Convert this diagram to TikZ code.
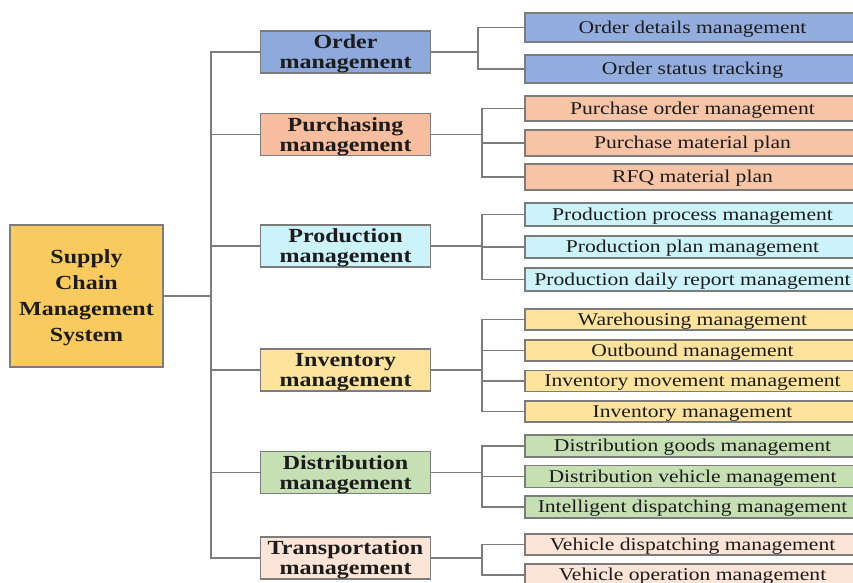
\documentclass[tikz,border=0pt]{standalone}
\usepackage{fontspec}
\newfontfamily\treefont{Liberation Serif}[FakeStretch=1.2]
\definecolor{linegray}{HTML}{7C7C7C}
\definecolor{rootfill}{HTML}{F9CB5F}
\definecolor{orderfill}{HTML}{8EA9DB}
\definecolor{orderleaf}{HTML}{92ADDE}
\definecolor{purchfill}{HTML}{F6BE9E}
\definecolor{purchleaf}{HTML}{F8C4A6}
\definecolor{prodfill}{HTML}{CCF3F9}
\definecolor{invfill}{HTML}{FEE39C}
\definecolor{distfill}{HTML}{C6E0B4}
\definecolor{transfill}{HTML}{FCE4D6}
\definecolor{inkdark}{HTML}{1C1C1C}
\begin{document}
\begin{tikzpicture}[x=1pt,y=-1pt,
  box/.style={draw=linegray, line width=1.5pt, inner sep=0pt, align=center,
    text=inkdark, font=\treefont},
  rootbox/.style={box, minimum width=153pt, minimum height=142pt, text depth=0pt,
    font=\treefont\bfseries\fontsize{20}{26}\selectfont},
  midbox/.style={box, minimum width=170pt, minimum height=42pt, text depth=0.5pt,
    font=\treefont\bfseries\fontsize{20}{20}\selectfont},
  leafbox/.style={box, minimum width=335pt, text height=12.5pt, text depth=1.5pt,
    font=\treefont\fontsize{18}{18}\selectfont},
  link/.style={draw=linegray, line width=1.5pt}]
\useasboundingbox (0,0) rectangle (853,582);
\begin{scope}
\clip (0,0) rectangle (853,582);

% root
\node[rootbox, fill=rootfill] (root) at (86.5,296) {Supply\\Chain\\Management\\System};

% second level
\node[midbox, fill=orderfill] (order) at (345.5,52) {Order\\management};
\node[midbox, fill=purchfill] (purch) at (345.5,134.5) {Purchasing\\management};
\node[midbox, fill=prodfill]  (prod)  at (345.5,246) {Production\\management};
\node[midbox, fill=invfill]   (inv)   at (345.5,370) {Inventory\\management};
\node[midbox, fill=distfill]  (dist)  at (345.5,472.5) {Distribution\\management};
\node[midbox, fill=transfill] (trans) at (345.5,558) {Transportation\\management};

% leaves
\node[leafbox, fill=orderleaf, minimum height=29pt] (o1) at (692.5,27.5) {Order details management};
\node[leafbox, fill=orderleaf, minimum height=28pt] (o2) at (692.5,69) {Order status tracking};

\node[leafbox, fill=purchleaf, minimum height=25pt] (p1) at (692.5,108.5) {Purchase order management};
\node[leafbox, fill=purchleaf, minimum height=26pt] (p2) at (692.5,143) {Purchase material plan};
\node[leafbox, fill=purchleaf, minimum height=26pt] (p3) at (692.5,177) {RFQ material plan};

\node[leafbox, fill=prodfill, minimum height=23pt] (r1) at (692.5,214.5) {Production process management};
\node[leafbox, fill=prodfill, minimum height=22pt] (r2) at (692.5,247) {Production plan management};
\node[leafbox, fill=prodfill, minimum height=23pt] (r3) at (692.5,279.5) {Production daily report management};

\node[leafbox, fill=invfill, minimum height=21pt] (i1) at (692.5,319.5) {Warehousing management};
\node[leafbox, fill=invfill, minimum height=21pt] (i2) at (692.5,350.5) {Outbound management};
\node[leafbox, fill=invfill, minimum height=21pt] (i3) at (692.5,381) {Inventory movement management};
\node[leafbox, fill=invfill, minimum height=21pt] (i4) at (692.5,411.5) {Inventory management};

\node[leafbox, fill=distfill, minimum height=22pt] (d1) at (692.5,446) {Distribution goods management};
\node[leafbox, fill=distfill, minimum height=22pt] (d2) at (692.5,476.5) {Distribution vehicle management};
\node[leafbox, fill=distfill, minimum height=22pt] (d3) at (692.5,507) {Intelligent dispatching management};

\node[leafbox, fill=transfill, minimum height=21pt] (t1) at (692.5,544.5) {Vehicle dispatching management};
\node[leafbox, fill=transfill, minimum height=22pt] (t2) at (692.5,575) {Vehicle operation management};

% trunk and branch columns
\coordinate (trunk) at (211,296);
\coordinate (bO) at (478,0);
\coordinate (bX) at (482,0);

\draw[link] (root.east) -- (trunk);
\foreach \m in {order,purch,prod,inv,dist,trans}
  \draw[link] (trunk) |- (\m.west);

% order branch
\draw[link] (order.east) -- (order.east -| bO);
\foreach \l in {o1,o2}
  \draw[link] (order.east -| bO) |- (\l.west);

% remaining branches
\foreach \m/\ls in {purch/{p1,p2,p3}, prod/{r1,r2,r3}, inv/{i1,i2,i3,i4},
                    dist/{d1,d2,d3}, trans/{t1,t2}} {
  \draw[link] (\m.east) -- (\m.east -| bX);
  \foreach \l in \ls
    \draw[link] (\m.east -| bX) |- (\l.west);
}
\end{scope}
\end{tikzpicture}
\end{document}
